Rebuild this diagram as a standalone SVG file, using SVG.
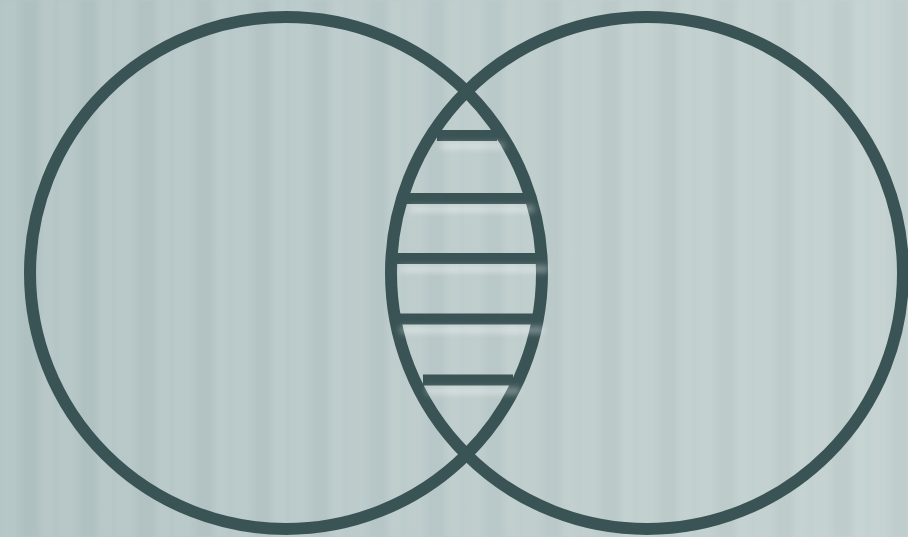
<svg xmlns="http://www.w3.org/2000/svg" width="908" height="537" viewBox="0 0 908 537">
  <defs>
    <linearGradient id="bg" x1="0" y1="0" x2="1" y2="0">
      <stop offset="0" stop-color="#b3c4c4"/>
      <stop offset="0.5" stop-color="#bccbcb"/>
      <stop offset="1" stop-color="#c4d1d1"/>
    </linearGradient>
    <pattern id="stripes" x="0" y="0" width="58" height="537" patternUnits="userSpaceOnUse">
      <rect x="0" y="0" width="16" height="537" fill="#ffffff" opacity="0.045"/>
      <rect x="22" y="0" width="16" height="537" fill="#000000" opacity="0.02"/>
      <rect x="42" y="0" width="12" height="537" fill="#ffffff" opacity="0.055"/>
    </pattern>
    <filter id="soft" x="-5%" y="-5%" width="110%" height="110%">
      <feGaussianBlur stdDeviation="1.5"/>
    </filter>
    <filter id="glow" x="-20%" y="-200%" width="140%" height="500%">
      <feGaussianBlur stdDeviation="3"/>
    </filter>
    <style>
      .ring { fill: none; stroke: #3a5355; stroke-width: 12; }
      .bar { stroke: #3a5355; stroke-width: 11; stroke-linecap: butt; }
      .shine { fill: #ffffff; opacity: 0.4; filter: url(#glow); }
    </style>
  </defs>
  <rect x="0" y="0" width="908" height="537" fill="url(#bg)"/>
  <rect x="0" y="0" width="908" height="537" fill="url(#stripes)" filter="url(#soft)"/>
  <g id="circle-left">
    <circle class="ring" cx="286" cy="273" r="256"/>
  </g>
  <g id="circle-right">
    <circle class="ring" cx="647" cy="273" r="256"/>
  </g>
  <g id="connectors">
    <line class="bar" x1="437" y1="135.5" x2="497" y2="135.5"/>
    <line class="bar" x1="406" y1="198.5" x2="527" y2="198.5"/>
    <line class="bar" x1="396" y1="258.5" x2="543" y2="258.5"/>
    <line class="bar" x1="396" y1="319" x2="538" y2="319"/>
    <line class="bar" x1="423" y1="380" x2="513" y2="380"/>
  </g>
  <g id="shines">
    <rect class="shine" x="440" y="143" width="64" height="6"/>
    <rect class="shine" x="410" y="206" width="124" height="6"/>
    <rect class="shine" x="400" y="266" width="148" height="6"/>
    <rect class="shine" x="400" y="327" width="144" height="6"/>
    <rect class="shine" x="426" y="388" width="94" height="6"/>
  </g>
</svg>
